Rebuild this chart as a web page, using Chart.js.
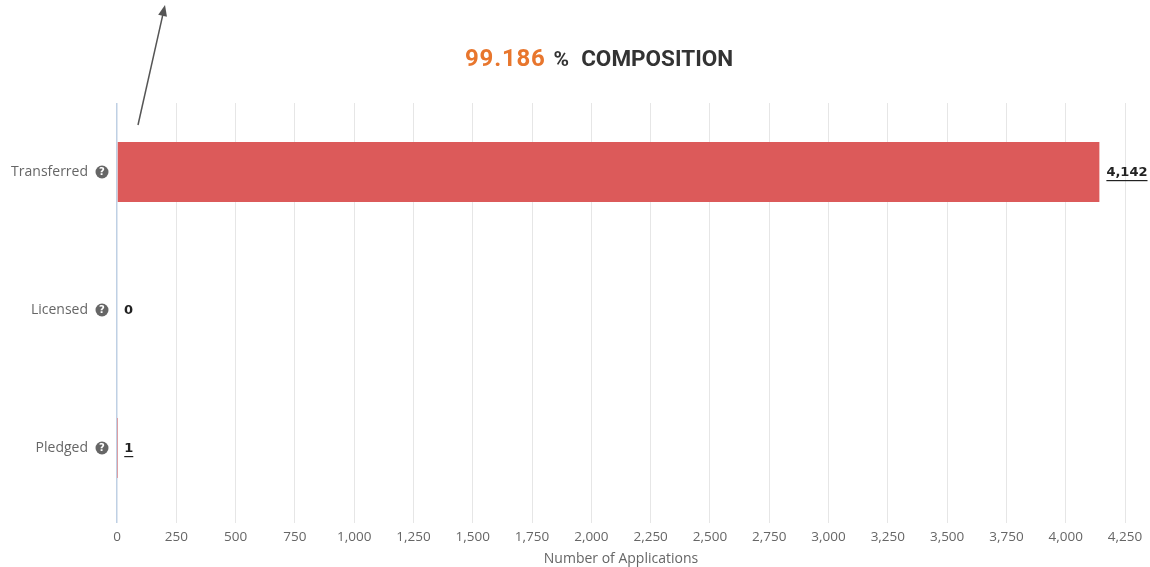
<!DOCTYPE html>
<html lang="en">
<head>
    <meta charset="UTF-8">
    <title>Composition</title>
    <style>
        body {
            margin: 0;
            padding: 0;
            background: #ffffff;
            font-family: 'Open Sans', sans-serif;
        }
        .wrap {
            position: relative;
            width: 1150px;
            height: 567px;
        }
        .headline {
            position: absolute;
            top: 44px;
            left: 465px;
            font-family: 'Roboto', sans-serif;
            font-weight: bold;
            font-size: 22.5px;
            color: #333333;
            white-space: nowrap;
        }
        .headline .pct {
            color: #e8762d;
            font-size: 24px;
            letter-spacing: 0.8px;
            margin-right: 8px;
        }
        .headline .unit {
            font-size: 21px;
            margin-right: 12px;
        }
        canvas {
            position: absolute;
            top: 0;
            left: 0;
        }
    </style>
    <script src="https://cdn.jsdelivr.net/npm/chart.js@4"></script>
</head>
<body>

<div class="wrap">
    <canvas id="myChart" width="1150" height="567"></canvas>
    <div class="headline"><span class="pct">99.186</span><span class="unit">%</span>COMPOSITION</div>
</div>

<script>
    // Categories and counts
    const categories = ['Transferred', 'Licensed', 'Pledged'];
    const counts = [4142, 0, 1];
    const underlined = [true, false, true];
    const xMax = 4250;
    const xStep = 250;

    const fmt = new Intl.NumberFormat('en-US');

    // Help icons next to the category names plus value labels after each bar
    const extrasPlugin = {
        id: 'extras',
        afterDatasetsDraw(chart) {
            const { ctx, chartArea, scales } = chart;
            const x = scales.x, y = scales.y;
            ctx.save();

            categories.forEach((cat, i) => {
                const cy = y.getPixelForValue(i);

                // question mark badge
                const ix = chartArea.left - 15;
                ctx.beginPath();
                ctx.arc(ix, cy, 6.5, 0, Math.PI * 2);
                ctx.fillStyle = '#666666';
                ctx.fill();
                ctx.fillStyle = '#ffffff';
                ctx.font = 'bold 10px "DejaVu Sans", sans-serif';
                ctx.textAlign = 'center';
                ctx.textBaseline = 'middle';
                ctx.fillText('?', ix, cy + 0.5);

                // value label
                const text = fmt.format(counts[i]);
                const lx = x.getPixelForValue(counts[i]) + 7;
                ctx.font = 'bold 13px "DejaVu Sans", sans-serif';
                ctx.fillStyle = '#222222';
                ctx.textAlign = 'left';
                ctx.fillText(text, lx, cy + 1);
                if (underlined[i]) {
                    const w = ctx.measureText(text).width;
                    ctx.fillRect(lx, cy + 8, w, 1.2);
                }
            });

            // pointer arrow in the upper left
            const x0 = chartArea.left + 21, y0 = chartArea.top + 22;
            const x1 = chartArea.left + 48, y1 = 5;
            const ang = Math.atan2(y1 - y0, x1 - x0);
            ctx.strokeStyle = '#555555';
            ctx.fillStyle = '#555555';
            ctx.lineWidth = 1.5;
            ctx.beginPath();
            ctx.moveTo(x0, y0);
            ctx.lineTo(x1 - 8 * Math.cos(ang), y1 - 8 * Math.sin(ang));
            ctx.stroke();
            ctx.beginPath();
            ctx.moveTo(x1, y1);
            ctx.lineTo(x1 - 11 * Math.cos(ang) + 4.5 * Math.sin(ang), y1 - 11 * Math.sin(ang) - 4.5 * Math.cos(ang));
            ctx.lineTo(x1 - 11 * Math.cos(ang) - 4.5 * Math.sin(ang), y1 - 11 * Math.sin(ang) + 4.5 * Math.cos(ang));
            ctx.closePath();
            ctx.fill();

            ctx.restore();
        }
    };

    const ctx = document.getElementById('myChart').getContext('2d');
    const chart = new Chart(ctx, {
        type: 'bar',
        data: {
            labels: categories,
            datasets: [{
                label: 'Number of Applications',
                data: counts,
                backgroundColor: '#dc5a5a',
                borderWidth: 0,
                barPercentage: 0.87,
                categoryPercentage: 0.5
            }]
        },
        options: {
            indexAxis: 'y',
            responsive: false,
            animation: false,
            layout: {
                padding: { top: 103, right: 25, left: 0, bottom: 0 }
            },
            plugins: {
                legend: { display: false },
                tooltip: { enabled: false }
            },
            scales: {
                x: {
                    min: 0,
                    max: xMax,
                    ticks: {
                        stepSize: xStep,
                        color: '#666666',
                        font: { family: 'Open Sans', size: 13.5 },
                        padding: 6,
                        callback: v => fmt.format(v)
                    },
                    grid: {
                        color: ctx => ctx.tick && ctx.tick.value === 0 ? '#bfd0e4' : '#e6e6e6',
                        lineWidth: ctx => ctx.tick && ctx.tick.value === 0 ? 1.5 : 1,
                        tickLength: 6,
                        drawTicks: true
                    },
                    border: { display: false },
                    title: {
                        display: true,
                        text: 'Number of Applications',
                        color: '#666666',
                        font: { family: 'Open Sans', size: 14 },
                        padding: { top: 0, bottom: 0 }
                    },
                    afterFit(scale) { scale.height = 50; }
                },
                y: {
                    grid: { display: false },
                    border: { display: false },
                    ticks: {
                        color: '#666666',
                        font: { family: 'Open Sans', size: 14 },
                        padding: 21
                    },
                    afterFit(scale) { scale.width = 117; }
                }
            }
        },
        plugins: [extrasPlugin]
    });
</script>

</body>
</html>
